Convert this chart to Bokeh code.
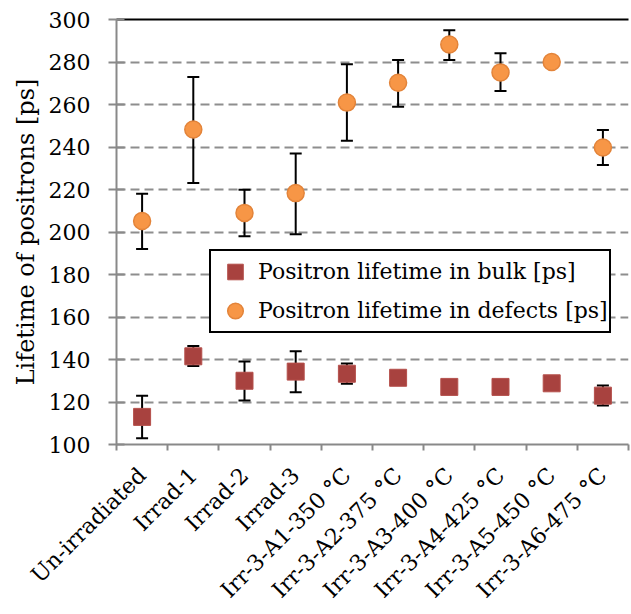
import math
from bokeh.plotting import figure
from bokeh.models import (ColumnDataSource, Range1d, FixedTicker, LinearAxis,
                          Whisker, TeeHead, Legend, LegendItem)
from bokeh.embed import file_html
from bokeh.resources import INLINE

categories = ["Un-irradiated", "Irrad-1", "Irrad-2", "Irrad-3",
              "Irr-3-A1-350 °C", "Irr-3-A2-375 °C", "Irr-3-A3-400 °C",
              "Irr-3-A4-425 °C", "Irr-3-A5-450 °C", "Irr-3-A6-475 °C"]

bulk = [113, 141.5, 130, 134.3, 133.3, 131.4, 127.1, 127.1, 128.8, 123]
bulk_hi = [122.9, 146.4, 139.1, 143.9, 138.1, None, None, None, None, 127.8]
bulk_lo = [103, 137, 120.7, 124.6, 128.6, None, None, None, None, 118.4]

defects = [205.2, 248.2, 209, 218.3, 260.9, 270.2, 288.2, 275.1, 280, 239.8]
def_hi = [218, 272.9, 219.9, 237, 279, 281, 294.9, 284.1, None, 248]
def_lo = [192, 223.1, 198, 199, 242.9, 259, 281, 266.3, None, 231.5]

y_ticks = [100, 120, 140, 160, 180, 200, 220, 240, 260, 280, 300]

FONT = "DejaVu Serif"
GRAY = "#898989"

n = len(categories)
xc = [i + 0.5 for i in range(n)]

p = figure(width=631, height=614, output_backend="svg", toolbar_location=None,
           x_range=Range1d(0, 10), y_range=Range1d(100, 300),
           min_border_left=116, min_border_right=3, min_border_top=19,
           min_border_bottom=164)
p.outline_line_color = None
p.background_fill_color = "white"
p.border_fill_color = "white"

# grid
p.xgrid.visible = False
p.ygrid.ticker = FixedTicker(ticks=y_ticks)
p.ygrid.grid_line_color = "#8e8e8e"
p.ygrid.grid_line_width = 2
p.ygrid.grid_line_dash = "9 5"

# y axis
ya = p.yaxis[0]
ya.ticker = FixedTicker(ticks=y_ticks)
ya.axis_line_color = GRAY
ya.axis_line_width = 2
ya.major_tick_line_color = GRAY
ya.major_tick_line_width = 2
ya.major_tick_in = 8
ya.major_tick_out = 8
ya.minor_tick_line_color = None
ya.major_label_text_font = FONT
ya.major_label_text_font_size = "22px"
ya.major_label_text_color = "black"
ya.major_label_standoff = 18
ya.axis_label = "Lifetime of positrons [ps]"
ya.axis_label_text_font = FONT
ya.axis_label_text_font_size = "24px"
ya.axis_label_text_font_style = "normal"
ya.axis_label_text_color = "black"
ya.axis_label_standoff = 6

# x axis
xa = p.xaxis[0]
xa.ticker = FixedTicker(ticks=xc, minor_ticks=list(range(n + 1)))
xa.major_label_overrides = {x: c for x, c in zip(xc, categories)}
xa.axis_line_color = GRAY
xa.axis_line_width = 2
xa.major_tick_line_color = None
xa.major_tick_out = 6
xa.major_tick_in = 0
xa.minor_tick_line_color = GRAY
xa.minor_tick_line_width = 2
xa.minor_tick_in = 0
xa.minor_tick_out = 6
xa.major_label_orientation = math.pi / 4
xa.major_label_text_font = FONT
xa.major_label_text_font_size = "22px"
xa.major_label_text_color = "black"
xa.major_label_standoff = 21

# top border
top = LinearAxis(ticker=FixedTicker(ticks=[]), axis_line_color="black",
                 axis_line_width=2, major_label_text_font_size="0px",
                 major_tick_line_color=None, minor_tick_line_color=None)
p.add_layout(top, "above")

# error bars
def whisker_source(vals_hi, vals_lo):
    xs, hi, lo = [], [], []
    for x, h, l in zip(xc, vals_hi, vals_lo):
        if h is not None:
            xs.append(x); hi.append(h); lo.append(l)
    return ColumnDataSource(dict(x=xs, upper=hi, lower=lo))

for hi_, lo_ in [(def_hi, def_lo), (bulk_hi, bulk_lo)]:
    w = Whisker(source=whisker_source(hi_, lo_), base="x", upper="upper",
                lower="lower", dimension="height", line_color="black",
                line_width=2, level="underlay",
                upper_head=TeeHead(size=12, line_color="black", line_width=2),
                lower_head=TeeHead(size=12, line_color="black", line_width=2))
    p.add_layout(w)

src_b = ColumnDataSource(dict(x=xc, y=bulk))
src_d = ColumnDataSource(dict(x=xc, y=defects))
r_b = p.scatter("x", "y", source=src_b, marker="square", size=17,
                fill_color="#A8423F", line_color="#B5504C", line_width=1)
r_d = p.scatter("x", "y", source=src_d, marker="circle", size=17,
                fill_color="#F79646", line_color="#E3843A", line_width=1.5)

legend = Legend(items=[LegendItem(label="Positron lifetime in bulk [ps]", renderers=[r_b]),
                       LegendItem(label="Positron lifetime in defects [ps]", renderers=[r_d])],
                location=(93, 111), orientation="vertical",
                label_text_font=FONT, label_text_font_size="22px",
                label_text_color="black",
                glyph_width=46, glyph_height=39, spacing=0, padding=1,
                label_standoff=0, border_line_color="black", border_line_width=2,
                border_line_alpha=1, background_fill_alpha=1, margin=0)
p.add_layout(legend, "center")

open("out.html", "w").write(file_html(p, INLINE))
